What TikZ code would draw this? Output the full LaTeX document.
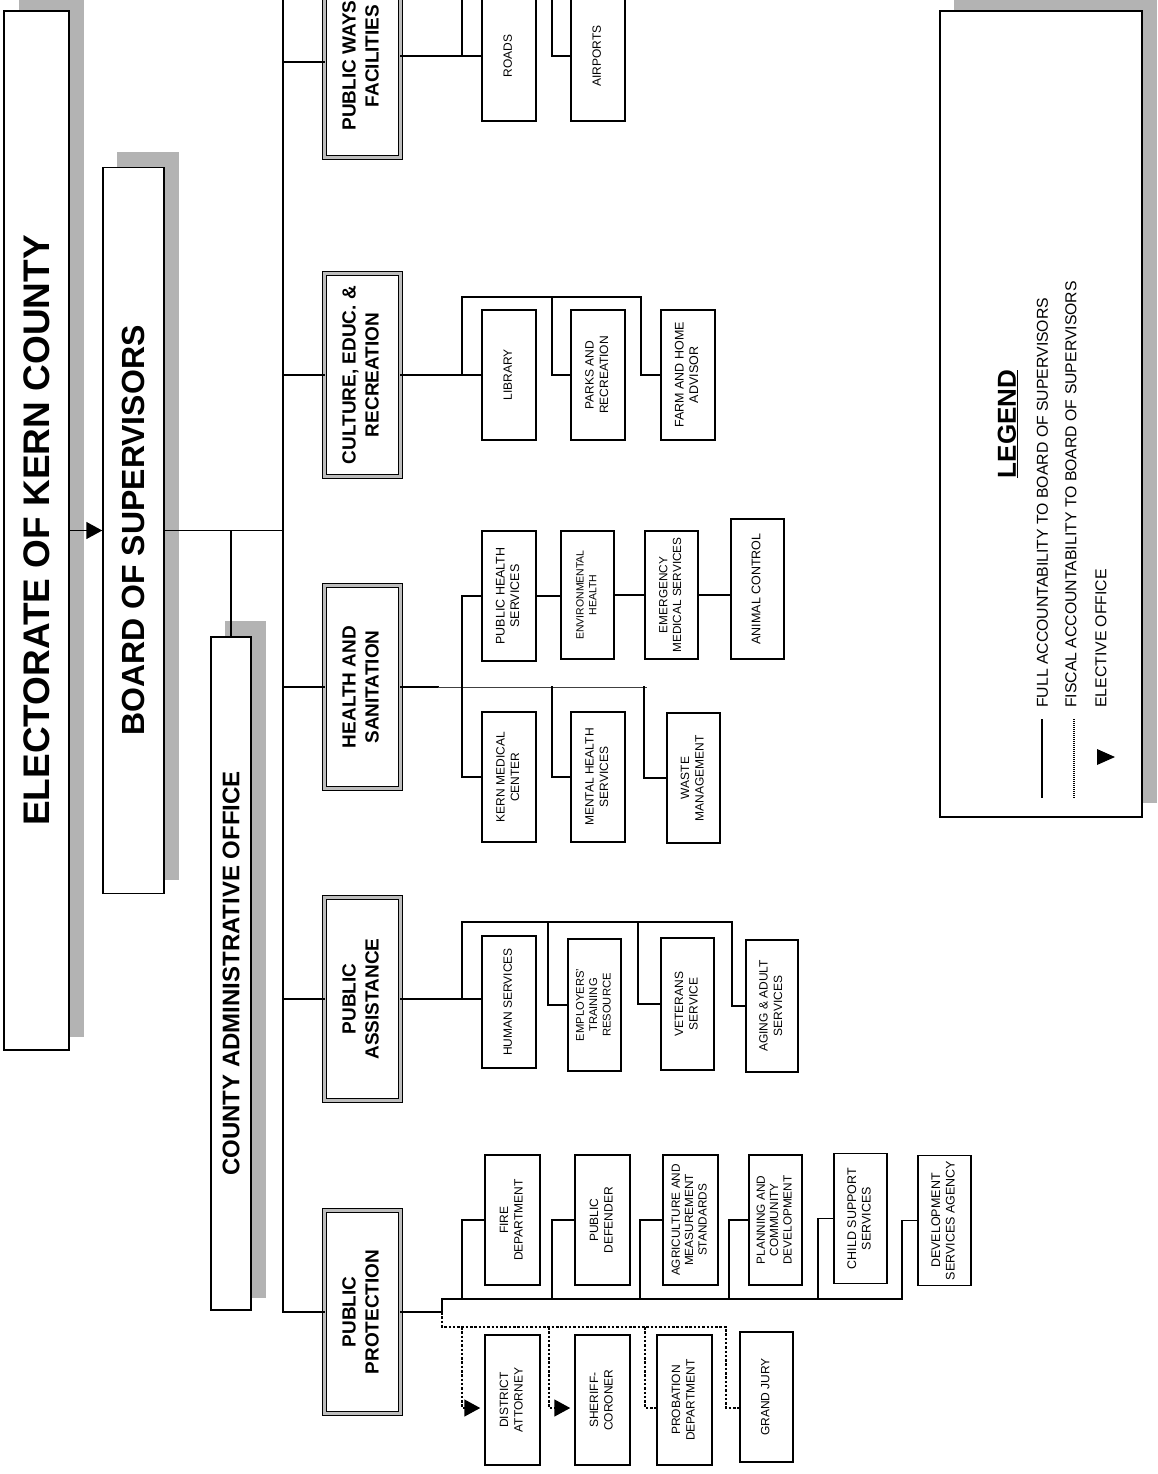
\documentclass[tikz,border=0pt]{standalone}
\usepackage{fontspec}
\setmainfont{Liberation Sans}
\usepackage{graphicx}
\usetikzlibrary{arrows.meta}
\definecolor{shadowgray}{HTML}{B3B3B3}
\definecolor{band}{HTML}{BDBDBD}
\newcommand{\vt}[1]{\rotatebox{90}{\begin{tabular}{@{}c@{}}#1\end{tabular}}}
\newcommand{\vs}[1]{\rotatebox{90}{#1}}
\begin{document}
\begin{tikzpicture}[x=1pt,y=-1pt,
  conn/.style={line width=1.5pt, line cap=rect},
  fisc/.style={line width=1.5pt, dash pattern=on 2.5pt off 1.8pt},
  tri/.style={-{Triangle[length=16pt,width=17pt]}},
  bigbox/.style={draw=black, line width=1.5pt, fill=white, inner sep=0pt},
  head/.style={draw=black, line width=1.3pt, double=band, double distance=2.6pt, fill=white, inner sep=0pt,
     minimum width=75.8pt, minimum height=202.8pt, font=\bfseries\fontsize{19}{23}\selectfont},
  sbox/.style={draw=black, line width=1.5pt, fill=white, inner sep=0pt, minimum width=54pt, minimum height=130pt,
     font=\fontsize{12}{14.4}\selectfont},
  lbox/.style={sbox, font=\fontsize{12.5}{14.6}\selectfont},
  tbox/.style={sbox, font=\fontsize{11.2}{13.4}\selectfont},
  legtxt/.style={inner sep=0pt, rotate=90, anchor=west, font=\fontsize{15.8}{18}\selectfont}
]
\useasboundingbox (0,0) rectangle (1157,1474);

% shadows
\fill[shadowgray] (19,0) rectangle (84,1037);
\fill[shadowgray] (117,152) rectangle (179,880);
\fill[shadowgray] (225,621) rectangle (266,1298);
\fill[shadowgray] (954,-5) rectangle (1157,803);

% top level boxes
\node[bigbox, minimum width=65pt, minimum height=1039pt, font=\bfseries\fontsize{37}{44}\selectfont] (elect) at (36.5,530.5) {\vs{ELECTORATE OF KERN COUNTY}};
\node[bigbox, minimum width=61pt, minimum height=726pt, font=\bfseries\fontsize{32}{38}\selectfont] (board) at (133.5,530.5) {\vs{BOARD OF SUPERVISORS}};
\node[bigbox, minimum width=40pt, minimum height=673pt, font=\bfseries\fontsize{24}{29}\selectfont] (cao) at (231,973.5) {\vs{COUNTY ADMINISTRATIVE OFFICE}};

\coordinate (bustop) at (283,-20);
\coordinate (busbot) at (283,1312);

% department headings
\node[head] (pw) at (362.5,56) {\vt{PUBLIC WAYS\phantom{ \&}\\FACILITIES}};
\node[head] (cult) at (362.5,375) {\vt{CULTURE, EDUC. \&\\RECREATION}};
\node[head] (health) at (362.5,687) {\vt{HEALTH AND\\SANITATION}};
\node[head] (pa) at (362.5,999) {\vt{PUBLIC\\ASSISTANCE}};
\node[head] (pp) at (362.5,1312) {\vt{PUBLIC\\PROTECTION}};

% public ways
\node[sbox] (roads) at (509,56) {\vt{ROADS}};
\node[sbox] (airports) at (598,56) {\vt{AIRPORTS}};
% culture
\node[sbox] (library) at (509,375) {\vt{LIBRARY}};
\node[sbox] (parks) at (598,375) {\vt{PARKS AND\\RECREATION}};
\node[lbox] (farm) at (688,375) {\vt{FARM AND HOME\\ADVISOR}};
% health
\node[lbox] (pubh) at (509,596) {\vt{PUBLIC HEALTH\\SERVICES}};
\node[sbox, font=\fontsize{10.5}{12.6}\selectfont, minimum width=53pt, minimum height=128pt] (env) at (587.5,595) {\vt{ENVIRONMENTAL\\HEALTH}};
\node[tbox, font=\fontsize{11.8}{13.6}\selectfont, minimum width=53pt, minimum height=128pt] (emer) at (671.5,595) {\vt{EMERGENCY\\MEDICAL SERVICES}};
\node[lbox, minimum width=53pt, minimum height=140pt] (animal) at (757.5,589) {\vt{ANIMAL CONTROL}};
\node[sbox] (kern) at (509,777) {\vt{KERN MEDICAL\\CENTER}};
\node[sbox] (mental) at (598,777) {\vt{MENTAL HEALTH\\SERVICES}};
\node[sbox, minimum width=53pt] (waste) at (693.5,778) {\vt{WASTE\\MANAGEMENT}};
% public assistance
\node[sbox, minimum height=132pt] (human) at (509,1002) {\vt{HUMAN SERVICES}};
\node[tbox, minimum width=53pt, minimum height=132pt] (employ) at (594.5,1005) {\vt{EMPLOYERS’\\TRAINING\\RESOURCE}};
\node[sbox, minimum width=53pt, minimum height=132pt] (veter) at (687.5,1004) {\vt{VETERANS\\SERVICE}};
\node[sbox, minimum width=52pt, minimum height=132pt] (aging) at (772,1006) {\vt{AGING \& ADULT\\SERVICES}};
% public protection
\node[sbox, minimum width=55pt] (fire) at (512.5,1220) {\vt{FIRE\\DEPARTMENT}};
\node[sbox, minimum width=55pt] (pd) at (602.5,1220) {\vt{PUBLIC\\DEFENDER}};
\node[tbox, font=\fontsize{11.8}{13.4}\selectfont, minimum width=55pt] (agri) at (690.5,1220) {\vt{AGRICULTURE AND\\MEASUREMENT\\STANDARDS}};
\node[tbox, font=\fontsize{11.8}{13.4}\selectfont, minimum width=53pt] (plan) at (775.5,1220) {\vt{PLANNING AND\\COMMUNITY\\DEVELOPMENT}};
\node[lbox, minimum width=53pt] (child) at (860.5,1218.5) {\vt{CHILD SUPPORT\\SERVICES}};
\node[lbox, minimum width=53pt] (dev) at (944.5,1220.5) {\vt{DEVELOPMENT\\SERVICES AGENCY}};
\node[sbox, minimum width=55pt] (da) at (512.5,1400) {\vt{DISTRICT\\ATTORNEY}};
\node[sbox, minimum width=55pt] (sheriff) at (602.5,1400) {\vt{SHERIFF-\\CORONER}};
\node[sbox, minimum width=55pt] (prob) at (684.5,1400) {\vt{PROBATION\\DEPARTMENT}};
\node[sbox, minimum width=53pt] (gj) at (766.5,1397) {\vt{GRAND JURY}};

% top connectors
\draw[line width=1.5pt, tri] (elect.east) -- (board.west);
\draw[conn] (board.east) -- (board.east -| bustop);
\draw[conn] (cao.north) -- (cao.north |- board.east);
\draw[conn] (bustop) -- (busbot);
\draw[conn] (0,62 -| bustop) -- (pw.west |- 0,62);
\draw[conn] (cult.west -| bustop) -- (cult.west);
\draw[conn] (health.west -| bustop) -- (health.west);
\draw[conn] (pa.west -| bustop) -- (pa.west);
\draw[conn] (busbot) -- (pp.west);

% public ways
\draw[conn] (pw.east) -- (roads.west);
\draw[conn] (462,56) -- (462,-20);
\draw[conn] (552,-20) -- (552,56) -- (airports.west);
% culture
\draw[conn] (cult.east) -- (library.west);
\draw[conn] (462,375) -- (462,297) -- (641,297) -- (641,375) -- (farm.west);
\draw[conn] (552,297) -- (552,375) -- (parks.west);
% health
\draw[conn] (health.east) -- (438,687);
\draw[line width=1pt, black!75] (438,687) -- (647,687);
\draw[conn] (pubh.west) -- (462,596) -- (462,777) -- (kern.west);
\draw[conn] (552,687) -- (552,777) -- (mental.west);
\draw[conn] (644,687) -- (644,778) -- (waste.west);
\draw[conn] (pubh.east) -- (pubh.east -| env.west);
\draw[conn] (env.east) -- (emer.west);
\draw[conn] (emer.east) -- (emer.east -| animal.west);
% public assistance
\draw[conn] (pa.east) -- (pa.east -| human.west);
\draw[conn] (462,999) -- (462,922) -- (732,922) -- (732,1006) -- (aging.west);
\draw[conn] (548,922) -- (548,1005) -- (employ.west);
\draw[conn] (638,922) -- (638,1004) -- (veter.west);
% public protection
\draw[conn] (pp.east) -- (442,1312) -- (442,1299) -- (902,1299) -- (902,1220.5) -- (dev.west);
\draw[conn] (462,1299) -- (462,1220) -- (fire.west);
\draw[conn] (552,1299) -- (552,1220) -- (pd.west);
\draw[conn] (640,1299) -- (640,1220) -- (agri.west);
\draw[conn] (729,1299) -- (729,1220) -- (plan.west);
\draw[conn] (818,1299) -- (818,1218.5) -- (child.west);
\draw[fisc] (442,1312) -- (442,1327) -- (726,1327) -- (726,1408) -- (gj.west |- 0,1408);
\draw[fisc, tri, shorten >=4pt] (462,1327) -- (462,1408) -- (da.west |- 0,1408);
\draw[fisc, tri, shorten >=4pt] (549,1327) -- (549,1408) -- (sheriff.west |- 0,1408);
\draw[fisc] (645,1327) -- (645,1408) -- (prob.west |- 0,1408);

% legend
\node[draw=black, line width=2pt, fill=white, minimum width=202pt, minimum height=806pt, inner sep=0pt] (legend) at (1041,414) {};
\node[inner sep=0pt, font=\bfseries\fontsize{26}{30}\selectfont] (legtitle) at (1008,424) {\vs{\underline{LEGEND}}};
\node[legtxt] (l1) at (1042.5,708) {FULL ACCOUNTABILITY TO BOARD OF SUPERVISORS};
\node[legtxt] (l2) at (1071,708) {FISCAL ACCOUNTABILITY TO BOARD OF SUPERVISORS};
\node[legtxt] (l3) at (1101,708) {ELECTIVE OFFICE};
\coordinate (s1a) at (1042,719); \coordinate (s1b) at (1042,798);
\coordinate (s2a) at (1074,719); \coordinate (s2b) at (1074,798);
\draw[line width=1.5pt] (s1a) -- (s1b);
\draw[line width=1.5pt, dash pattern=on 1pt off 1pt] (s2a) -- (s2b);
\fill (1097,749) -- (1115,757) -- (1097,765) -- cycle;
\end{tikzpicture}
\end{document}
